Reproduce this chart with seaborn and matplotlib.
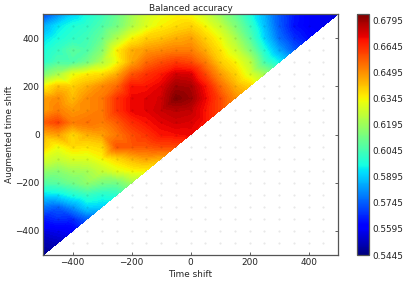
import numpy as np
import pandas as pd
import matplotlib
matplotlib.use("Agg")
import matplotlib.pyplot as plt
import seaborn as sns

grid_step_values = list(range(-500, 501, 50))
row_500 = [.570,.580,.590,.597,.603,.610,.620,.628,.632,.634,.633,.627,.618,.609,.598,.586,.573,.565,.560,.558,.556]
row_450 = [.585,.593,.598,.601,.606,.612,.622,.630,.635,.638,.640,.634,.626,.615,.603,.588,.574,.564,.560,.558]
row_400 = [.592,.597,.601,.604,.610,.622,.634,.640,.642,.645,.647,.640,.633,.622,.608,.591,.577,.568,.563]
row_350 = [.597,.602,.608,.606,.615,.635,.645,.648,.650,.652,.652,.645,.637,.628,.615,.598,.584,.574]
row_300 = [.600,.606,.606,.612,.622,.633,.646,.655,.659,.662,.660,.652,.641,.635,.625,.605,.595]
row_250 = [.613,.621,.632,.636,.638,.645,.658,.663,.667,.673,.672,.660,.648,.640,.630,.620]
row_200 = [.634,.642,.640,.645,.650,.655,.668,.668,.671,.679,.678,.668,.655,.645,.640]
row_150 = [.647,.650,.643,.650,.653,.663,.670,.671,.673,.683,.680,.670,.660,.650]
row_100 = [.647,.652,.648,.650,.653,.663,.670,.671,.674,.676,.675,.668,.660]
row_p50 = [.657,.661,.652,.654,.652,.657,.664,.668,.671,.673,.672,.668]
row_000 = [.645,.647,.639,.645,.647,.653,.659,.663,.668,.669,.670]
row_m50 = [.640,.633,.638,.637,.639,.658,.658,.658,.660,.660]
row_m100 = [.630,.626,.630,.630,.634,.639,.644,.647,.645]
row_m150 = [.618,.616,.620,.621,.626,.631,.634,.635]
row_m200 = [.607,.608,.612,.617,.613,.612,.620]
row_m250 = [.592,.593,.598,.602,.599,.600]
row_m300 = [.578,.575,.582,.591,.590]
row_m350 = [.565,.568,.567,.575]
row_m400 = [.556,.558,.560]
row_m450 = [.550,.552]
row_m500 = [.546]
rows = [row_m500,row_m450,row_m400,row_m350,row_m300,row_m250,row_m200,row_m150,row_m100,row_m50,
        row_000,row_p50,row_100,row_150,row_200,row_250,row_300,row_350,row_400,row_450,row_500]
cbar_ticks = [0.5445,0.5595,0.5745,0.5895,0.6045,0.6195,0.6345,0.6495,0.6645,0.6795]
axis_ticks = [-400,-200,0,200,400]

sns.set_theme(style="ticks", rc={"font.family":"DejaVu Sans","font.size":6.4,"axes.linewidth":0.9,
    "axes.edgecolor":"#555555","text.color":"#222222","xtick.color":"#222222","ytick.color":"#222222"})
recs = [(x, y, v) for y, r in zip(grid_step_values, rows) for x, v in zip(grid_step_values, r)]
df = pd.DataFrame(recs, columns=["x","y","v"])
dots = pd.DataFrame([(x,y) for x in grid_step_values[1:-1] for y in grid_step_values[1:-1]], columns=["x","y"])

fig = plt.figure(figsize=(4.07,2.82), dpi=100)
W, H = 407., 282.
ax = fig.add_axes([43/W, 1-255/H, 295/W, 241/H])
cax = fig.add_axes([357/W, 1-255/H, 12/W, 241/H])
vmin, vmax = 0.5445, 0.6834
levels = np.linspace(vmin, vmax, 90)
cmap = matplotlib.colormaps["jet"]
cf = ax.tricontourf(df.x, df.y, df.v, levels=levels, cmap=cmap, extend="both")
sns.scatterplot(data=dots, x="x", y="y", ax=ax, s=2.5, color="black", alpha=0.09, linewidth=0, legend=False, zorder=3)
ax.set_xlim(-500,500); ax.set_ylim(-500,500)
ax.set_xticks(axis_ticks); ax.set_yticks(axis_ticks)
ax.tick_params(direction="in", top=True, right=True, length=2.5, width=0.5, labelsize=6.4, pad=2.5)
ax.set_xlabel("Time shift", fontsize=6.4, labelpad=1.5)
ax.set_ylabel("Augmented time shift", fontsize=6.4, labelpad=1)
ax.set_title("Balanced accuracy", fontsize=6.4, pad=2)
sm = matplotlib.cm.ScalarMappable(norm=matplotlib.colors.Normalize(vmin,vmax), cmap=cmap)
cb = fig.colorbar(sm, cax=cax, ticks=cbar_ticks)
cb.ax.set_yticklabels([f"{t:.4f}" for t in cbar_ticks])
cb.ax.tick_params(direction="in", length=2.5, width=0.5, labelsize=6.4, pad=2.5, right=True)
fig.savefig("out.png", dpi=100)
